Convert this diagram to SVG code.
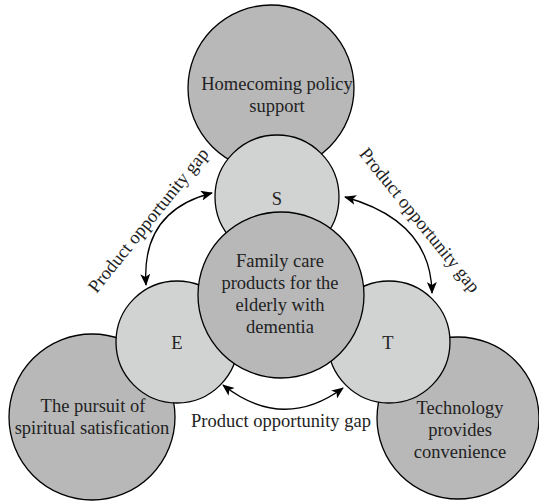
<svg xmlns="http://www.w3.org/2000/svg" width="539" height="504" viewBox="0 0 539 504">
  <style>
    .big { fill: #b8b8b9; stroke: #000; stroke-width: 1.3; }
    .small { fill: #d1d2d2; stroke: #000; stroke-width: 1.3; }
    .label { font-family: "Liberation Serif", "Times New Roman", serif; font-size: 18.5px; fill: #222; text-anchor: middle; }
    .link { fill: none; stroke: #000; stroke-width: 1.3; marker-start: url(#head); marker-end: url(#head); }
  </style>
  <defs>
    <marker id="head" viewBox="0 0 12 10" refX="11" refY="5" markerWidth="12" markerHeight="10" markerUnits="userSpaceOnUse" orient="auto-start-reverse">
      <path d="M0,0 L12,5 L0,10 L3,5 Z" fill="#000"/>
    </marker>
  </defs>

  <!-- outer driver circles -->
  <g id="node-policy">
    <circle class="big" cx="271" cy="88" r="83"/>
    <text class="label" x="277" y="90">Homecoming policy</text>
    <text class="label" x="277" y="112">support</text>
  </g>
  <g id="node-spiritual">
    <circle class="big" cx="92" cy="417" r="83"/>
    <text class="label" x="93" y="412">The pursuit of</text>
    <text class="label" x="92" y="434">spiritual satisfication</text>
  </g>
  <g id="node-technology">
    <circle class="big" cx="458" cy="418" r="81"/>
    <text class="label" x="460" y="414">Technology</text>
    <text class="label" x="460" y="436">provides</text>
    <text class="label" x="460" y="458">convenience</text>
  </g>

  <!-- S / E / T factor circles -->
  <g id="node-s">
    <circle class="small" cx="277" cy="197" r="62"/>
    <text class="label" x="277" y="205">S</text>
  </g>
  <g id="node-e">
    <circle class="small" cx="177" cy="342" r="61"/>
    <text class="label" x="177" y="349">E</text>
  </g>
  <g id="node-t">
    <circle class="small" cx="389" cy="342" r="61"/>
    <text class="label" x="388" y="349">T</text>
  </g>

  <!-- central product circle -->
  <g id="node-product">
    <circle class="big" cx="281" cy="295" r="83"/>
    <text class="label" x="280" y="267">Family care</text>
    <text class="label" x="280" y="289">products for the</text>
    <text class="label" x="280" y="311">elderly with</text>
    <text class="label" x="280" y="333">dementia</text>
  </g>

  <!-- opportunity-gap connectors -->
  <g id="connectors">
    <path class="link" d="M212,193 Q141,211 146,285"/>
    <path class="link" d="M345,197 Q431,221 432,293"/>
    <path class="link" d="M223,385 Q283,432 343,388"/>
    <text class="label" transform="translate(153,224) rotate(-51)">Product opportunity gap</text>
    <text class="label" transform="translate(415,224) rotate(51)">Product opportunity gap</text>
    <text class="label" x="281" y="427">Product opportunity gap</text>
  </g>
</svg>
